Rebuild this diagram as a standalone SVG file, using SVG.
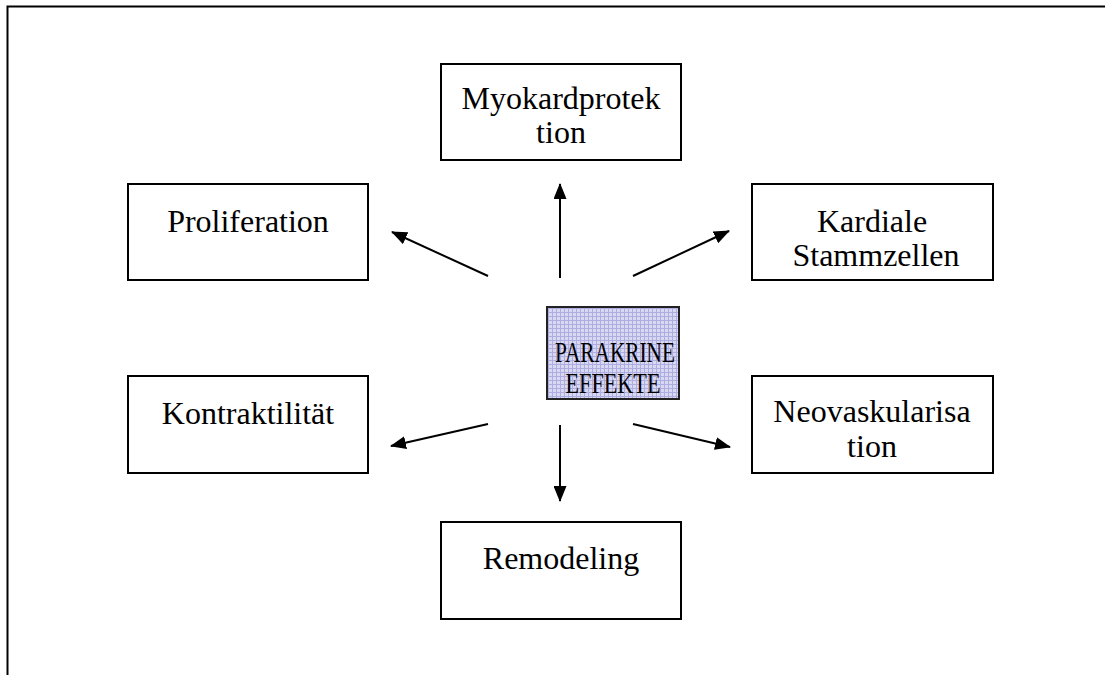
<svg xmlns="http://www.w3.org/2000/svg" width="1105" height="675" viewBox="0 0 1105 675">
<style>
.box{fill:#fff;stroke:#000;stroke-width:2}
.t{font-family:"Liberation Serif","Times New Roman",serif;font-size:32px;fill:#000;text-anchor:middle}
.tc{font-family:"Liberation Serif","Times New Roman",serif;font-size:30px;fill:#000;text-anchor:middle}
.c{stroke:#000;stroke-width:2;fill:none;marker-end:url(#ah)}
</style>
<defs>
<marker id="ah" viewBox="0 0 16 13" refX="15" refY="6.5" markerWidth="16" markerHeight="13" markerUnits="userSpaceOnUse" orient="auto">
<path d="M0,0 L16,6.5 L0,13 Z" fill="#000"/>
</marker>
<pattern id="grid" width="4" height="4" patternUnits="userSpaceOnUse">
<rect width="4" height="4" fill="#d8d8f2"/>
<path d="M0,0.5 H4 M0.5,0 V4" stroke="#adaddf" stroke-width="1"/>
</pattern>
</defs>
<rect width="1105" height="675" fill="#fff"/>
<g id="frame"><path d="M7.5,675 V6.5 H1105" stroke="#000" stroke-width="2" fill="none"/></g>
<g id="connectors">
<line class="c" x1="560" y1="278" x2="560" y2="184"/>
<line class="c" x1="488" y1="276" x2="392" y2="232"/>
<line class="c" x1="633" y1="276" x2="729" y2="231"/>
<line class="c" x1="488" y1="424" x2="391" y2="446"/>
<line class="c" x1="560" y1="425" x2="560" y2="501"/>
<line class="c" x1="633" y1="424" x2="730" y2="447"/>
</g>
<g id="myokard"><rect class="box" x="441" y="64" width="240" height="96"/><text class="t" x="561" y="109">Myokardprotek</text><text class="t" x="561" y="143">tion</text></g>
<g id="proliferation"><rect class="box" x="128" y="184" width="240" height="96"/><text class="t" x="248" y="232">Proliferation</text></g>
<g id="kardiale"><rect class="box" x="752" y="184" width="241" height="96"/><text class="t" x="872" y="232">Kardiale</text><text class="t" x="876" y="266">Stammzellen</text></g>
<g id="parakrine"><rect x="547" y="307" width="132" height="92" fill="url(#grid)" stroke="#222" stroke-width="2"/><text class="tc" x="615" y="362" textLength="120" lengthAdjust="spacingAndGlyphs">PARAKRINE</text><text class="tc" x="613" y="393" textLength="95" lengthAdjust="spacingAndGlyphs">EFFEKTE</text></g>
<g id="kontraktilitaet"><rect class="box" x="128" y="376" width="240" height="97"/><text class="t" x="248" y="424">Kontraktilität</text></g>
<g id="neovaskularisation"><rect class="box" x="752" y="376" width="241" height="97"/><text class="t" x="872" y="422">Neovaskularisa</text><text class="t" x="872" y="457">tion</text></g>
<g id="remodeling"><rect class="box" x="441" y="522" width="240" height="97"/><text class="t" x="561" y="569">Remodeling</text></g>
</svg>
